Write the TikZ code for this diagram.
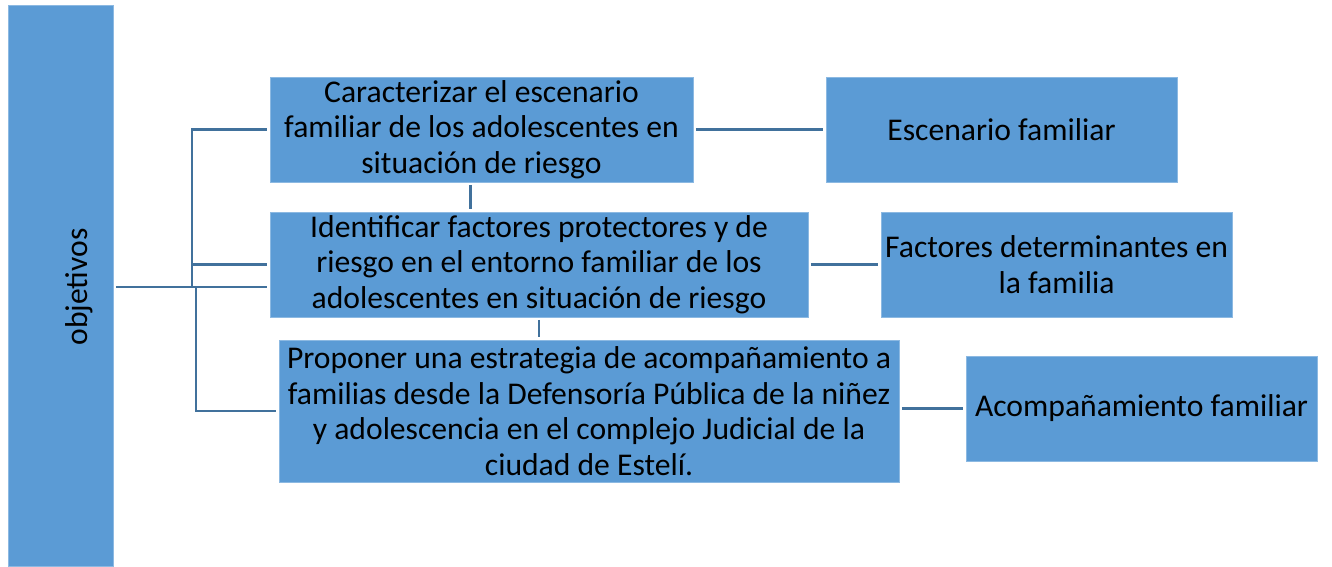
\documentclass[tikz,border=0pt]{standalone}
\usepackage{fontspec}
\setmainfont{Carlito}
\usetikzlibrary{positioning, arrows.meta}
\definecolor{boxblue}{HTML}{5B9BD5}
\definecolor{lineblue}{HTML}{41719C}

\begin{document}
\begin{tikzpicture}[
      x=0.02cm, y=-0.02cm,
      % ボックスの基本スタイル設定
      block/.style={rectangle, fill=boxblue, draw=boxblue!70!white, line width=0.4pt, align=center, inner sep=0pt, minimum height=2.1cm},
      % 接続線のスタイル設定
      link/.style={draw=lineblue, line width=1.3pt, shorten >=1.5pt, shorten <=1.5pt},
      font=\fontsize{18}{20.2}\selectfont
    ]
    \useasboundingbox (0,0) rectangle (1332,566);

    % --- 左側：縦長のバー ---
    \node [block, minimum width=2.1cm, minimum height=11.22cm] (obj) at (60.5,285.5) {};
    \node [rotate=90] (objtext) at (79,287) {objetivos};

    % --- 中央：三つの目的 ---
    \node [block, minimum width=8.46cm] (car) at (481.5,129.5) {Caracterizar el escenario\\familiar de los adolescentes en\\situación de riesgo};
    \node [block, minimum width=10.76cm] (ide) at (539,264.5) {Identificar factores protectores y de\\riesgo en el entorno familiar de los\\adolescentes en situación de riesgo};
    \node [block, minimum width=12.4cm, minimum height=2.84cm] (pro) at (589,411) {Proponer una estrategia de acompañamiento a\\familias desde la Defensoría Pública de la niñez\\y adolescencia en el complejo Judicial de la\\ciudad de Estelí.};

    % --- 右側：結果 ---
    \node [block, minimum width=7.02cm] (esc) at (1001.5,129.5) {Escenario familiar};
    \node [block, minimum width=7.02cm] (fac) at (1056.5,264.5) {Factores determinantes en\\la familia};
    \node [block, minimum width=7.02cm] (aco) at (1141.5,408.5) {Acompañamiento familiar};

    % --- 接続線 ---
    \coordinate (hub) at (192,287);
    \draw [link] (obj.east |- hub) -- (ide.west |- hub);
    \draw [link, shorten <=0pt] (hub) |- (car.west);
    \draw [link, shorten <=0pt] (hub) |- (ide.west);
    \draw [link, shorten <=0pt] ([xshift=0.08cm]hub) |- (pro.west);

    % 中央の縦線
    \draw [link] ([xshift=-0.22cm]car.south) -- ([xshift=-0.22cm]car.south |- ide.north);
    \draw [link] (ide.south) -- (ide.south |- pro.north);

    % 右側への横線
    \draw [link] (car.east) -- (esc.west);
    \draw [link] (ide.east) -- (fac.west);
    \draw [link] (pro.east |- aco.west) -- (aco.west);

\end{tikzpicture}
\end{document}
